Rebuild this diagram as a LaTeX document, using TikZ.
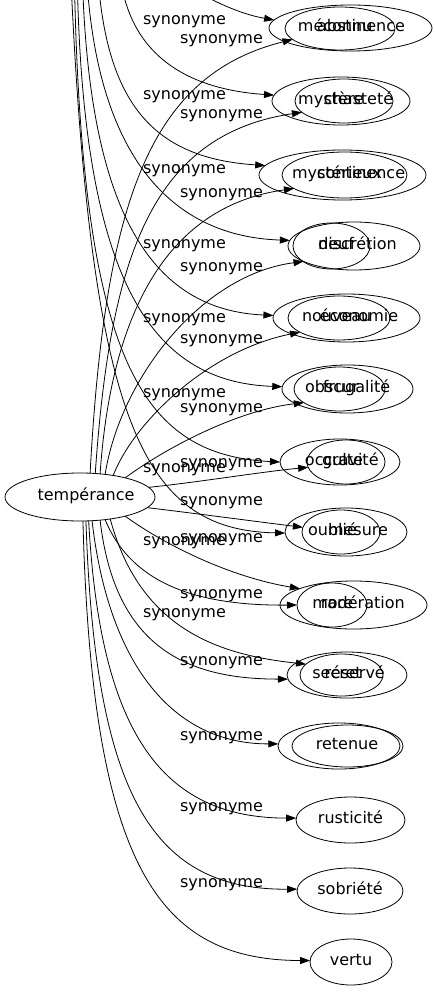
\documentclass[tikz,border=0pt]{standalone}
\usepackage{fontspec}
\setmainfont{DejaVu Sans}
\usetikzlibrary{shapes.geometric,arrows.meta}
\begin{document}
\begin{tikzpicture}[x=1pt,y=-1pt,
  ell/.style={draw, ellipse, line width=0.8pt, inner sep=0pt, outer sep=0pt},
  wrd/.style={font=\fontsize{16pt}{19pt}\selectfont, text height=10.5pt, text depth=3.5pt, inner sep=0pt, outer sep=0pt},
  syn/.style={wrd},
  conn/.style={line width=0.8pt, -{Triangle[length=10pt,width=7pt]}},
]
\fill[white] (0,0) rectangle (434,995);
\useasboundingbox (0,0) rectangle (434,995);
\clip (0,0) rectangle (434,995);

% centre node
\node[ell, minimum width=150pt, minimum height=48pt, label={[wrd,xshift=6pt]center:tempérance}] (temp) at (80,497) {};

% right column
\node[ell, minimum width=163pt, minimum height=46pt, label={[wrd,xshift=10.5pt]center:abstinence}] (o1) at (350.5,28) {};
\node[ell, minimum width=110pt, minimum height=43pt, label={[wrd,xshift=-4.8pt]center:méconnu}] (i1) at (340,28.5) {};
\node[ell, minimum width=138pt, minimum height=48pt, label={[wrd,xshift=17.5pt]center:chasteté}] (o2) at (341,101) {};
\node[ell, minimum width=98pt, minimum height=44pt, label={[wrd,xshift=-13pt]center:mystère}] (i2) at (344,101) {};
\node[ell, minimum width=167pt, minimum height=50pt, label={[wrd,xshift=18.5pt]center:continence}] (o3) at (342.5,175) {};
\node[ell, minimum width=125pt, minimum height=46pt, label={[wrd,xshift=-7.5pt]center:mystérieux}] (i3) at (344.5,175) {};
\node[ell, minimum width=132pt, minimum height=48pt, label={[wrd,xshift=3.5pt]center:discrétion}] (o4) at (354,246) {};
\node[ell, minimum width=77pt, minimum height=46pt, label={[wrd,xshift=4.5pt]center:neuf}] (i4) at (331.5,246) {};
\node[ell, minimum width=147pt, minimum height=48pt, label={[wrd,xshift=12.5pt]center:économie}] (o5) at (346.5,318) {};
\node[ell, minimum width=102pt, minimum height=44pt, label={[wrd,xshift=-2.3pt]center:nouveau}] (i5) at (339,318) {};
\node[ell, minimum width=131pt, minimum height=48pt, label={[wrd,xshift=9pt]center:frugalité}] (o6) at (347.5,389) {};
\node[ell, minimum width=91pt, minimum height=44pt, label={[wrd,xshift=-7.5pt]center:obscur}] (i6) at (339.5,389) {};
\node[ell, minimum width=120pt, minimum height=46pt, label={[wrd,xshift=-6pt]center:occulte}] (o7) at (340,462) {};
\node[ell, minimum width=78pt, minimum height=44pt, label={[wrd,xshift=4.3pt]center:gravité}] (i7) at (346,462) {};
\node[ell, minimum width=122pt, minimum height=48pt, label={[wrd,xshift=12pt]center:mesure}] (o8) at (346,532) {};
\node[ell, minimum width=78pt, minimum height=44pt, label={[wrd,xshift=-8.5pt]center:oublié}] (i8) at (341,532) {};
\node[ell, minimum width=147pt, minimum height=48pt, label={[wrd,xshift=5pt]center:modération}] (o9) at (353.5,605) {};
\node[ell, minimum width=70pt, minimum height=44pt, label={[wrd,xshift=5pt]center:rare}] (i9) at (332,605) {};
\node[ell, minimum width=120pt, minimum height=46pt, label={[wrd,xshift=7.75pt]center:réservé}] (o10) at (347,675) {};
\node[ell, minimum width=83pt, minimum height=42pt, label={[wrd,xshift=-4.5pt]center:secret}] (i10) at (341.5,675) {};
\node[ell, minimum width=122pt, minimum height=46pt, label={[wrd,xshift=8pt]center:retenue}] (o11) at (339,746) {};
\node[ell, minimum width=111pt, minimum height=42pt] (i11) at (347.5,746) {};
\node[ell, minimum width=109pt, minimum height=46pt, label={[wrd]center:rusticité}] (n12) at (350.5,820) {};
\node[ell, minimum width=106pt, minimum height=46pt, label={[wrd]center:sobriété}] (n13) at (350,891) {};
\node[ell, minimum width=82pt, minimum height=46pt, label={[wrd]center:vertu}] (n14) at (351,962) {};

% free ends above the picture
\coordinate (b1) at (190,-12);
\coordinate (b2) at (119,-40);
\coordinate (b3) at (97,-40);
\coordinate (b4) at (86,-40);
\coordinate (b5) at (82,-40);
\coordinate (b6) at (77,-40);
\coordinate (b7) at (74,-40);
\coordinate (b8) at (70,-40);

% connectors coming from above
\draw[conn] (b1) .. controls (215,2) and (240,14) .. (o1.174);
\draw[conn] (b2) .. controls (122,40) and (170,88) .. (o2.175);
\draw[conn] (b3) .. controls (103,100) and (150,158) .. (o3.173);
\draw[conn] (b4) .. controls (92,140) and (160,236) .. (o4.175);
\draw[conn] (b5) .. controls (86,210) and (150,310) .. (o5.178);
\draw[conn] (b6) .. controls (80,280) and (150,382) .. (o6.178);
\draw[conn] (b7) .. controls (80,360) and (140,455) .. (o7.180);
\draw[conn] (b8) .. controls (90,420) and (140,530) .. (o8.181);

% connectors from tempérance
\draw[conn] (temp.67) .. controls (105,200) and (150,75) .. (i1.193);
\draw[conn] (temp.57) .. controls (110,260) and (150,135) .. (i2.195);
\draw[conn] (temp.49) .. controls (112,300) and (175,205) .. (i3.195);
\draw[conn] (temp.42) .. controls (120,380) and (200,275) .. (o4.197);
\draw[conn] (temp.33) .. controls (135,420) and (210,350) .. (i5.200);
\draw[conn] (temp.23) .. controls (170,445) and (240,410) .. (i6.201);
\draw[conn] (temp.8) .. controls (200,482) and (260,472) .. (i7.188);
\draw[conn] (temp.351) .. controls (200,514) and (260,522) .. (i8.173);
\draw[conn] (temp.337) .. controls (165,545) and (230,577) .. (o9.163);
\draw[conn] (temp.318) .. controls (130,580) and (190,606) .. (i9.180);
\draw[conn] (temp.324) .. controls (140,630) and (220,655) .. (i10.163);
\draw[conn] (temp.311) .. controls (115,650) and (190,679) .. (o10.184);
\draw[conn] (temp.297) .. controls (108,660) and (170,744) .. (o11.178);
\draw[conn] (temp.290) .. controls (100,730) and (160,818) .. (n12.178);
\draw[conn] (temp.284) .. controls (95,800) and (155,890) .. (n13.178);
\draw[conn] (temp.277) .. controls (92,870) and (160,960) .. (n14.178);

% edge labels
\node[syn] (lb1) at (184.5,21.5) {synonyme};
\node[syn] (lb2) at (184.5,96.5) {synonyme};
\node[syn] (lb3) at (184.5,170) {synonyme};
\node[syn] (lb4) at (184.5,245) {synonyme};
\node[syn] (lb5) at (184.5,318.5) {synonyme};
\node[syn] (lb6) at (184.5,393.5) {synonyme};
\node[syn] (lb7) at (184.5,468.5) {synonyme};
\node[syn] (lb8) at (184.5,541.5) {synonyme};
\node[syn] (lb9) at (184.5,613.5) {synonyme};
\node[syn] (la1) at (221.5,40) {synonyme};
\node[syn] (la2) at (221.5,115) {synonyme};
\node[syn] (la3) at (221.5,193.5) {synonyme};
\node[syn] (la4) at (221.5,267.5) {synonyme};
\node[syn] (la5) at (221.5,340) {synonyme};
\node[syn] (la6) at (221.5,409) {synonyme};
\node[syn] (la7) at (221.5,464) {synonyme};
\node[syn] (la8) at (221.5,501.5) {synonyme};
\node[syn] (la9) at (221.5,538.5) {synonyme};
\node[syn] (la10) at (221.5,595) {synonyme};
\node[syn] (la11) at (221.5,662) {synonyme};
\node[syn] (la12) at (221.5,737) {synonyme};
\node[syn] (la13) at (221.5,808) {synonyme};
\node[syn] (la14) at (221.5,884) {synonyme};
\end{tikzpicture}
\end{document}
